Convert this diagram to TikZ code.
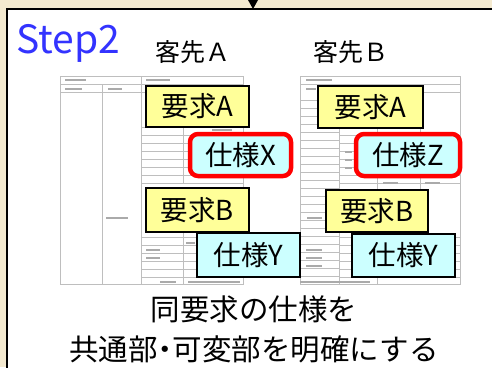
\documentclass[tikz,border=0pt]{standalone}
\usepackage{fontspec}
\setmainfont{Noto Sans CJK JP}
\definecolor{parch}{RGB}{244,234,208}
\definecolor{reqfill}{RGB}{255,255,153}
\definecolor{specfill}{RGB}{204,255,255}
\definecolor{stepblue}{RGB}{51,51,255}
\definecolor{gridgray}{RGB}{190,190,190}
\definecolor{blobgray}{RGB}{170,170,170}
\begin{document}
\begin{tikzpicture}[x=1pt,y=-1pt,
  req/.style={draw=black,line width=1.5pt,fill=reqfill,inner sep=0pt,font=\fontsize{27.5}{29}\selectfont},
  spec/.style={draw=black,line width=1.5pt,fill=specfill,inner sep=0pt,font=\fontsize{27.5}{29}\selectfont},
  hot/.style={draw=red,line width=4.5pt,fill=specfill,rounded corners=8pt,inner sep=0pt,font=\fontsize{27.5}{29}\selectfont},
  grid/.style={draw=gridgray,line width=0.8pt},
  blob/.style={draw=blobgray,line width=2.5pt}]
\useasboundingbox (0,0) rectangle (492,367);
\fill[parch] (0,0) rectangle (492,367);
% main white panel
\draw[line width=2pt,fill=white] (7,9) rectangle (510,390);
% arrow head from above
\fill[black] (248,0) -- (258,0) -- (253,9) -- cycle;
% left blurred sheet
\draw[grid] (60,76) rectangle (243,284);
\draw[grid] (102,84) -- (102,284);
\draw[grid] (141,76) -- (141,284);
\draw[grid] (60,84) -- (243,84);
\foreach \y in {92,127,135,143,151,159,167,175,183,237,245,253,261,269,277}{\draw[grid] (141,\y) -- (243,\y);}
\foreach \y in {92}{\draw[grid] (60,\y) -- (141,\y);}
\draw[grid] (183,127) -- (183,183);
\draw[grid] (183,230) -- (183,284);
\draw[blob] (65,80) -- (86,80);
\draw[blob] (65,89) -- (82,89);
\draw[blob] (108,89) -- (122,89);
\draw[blob] (146,80) -- (170,80);
\draw[blob] (106,218) -- (128,218);
\draw[blob] (146,250) -- (160,250);
\draw[blob] (146,258) -- (160,258);
\draw[blob] (186,243) -- (195,243);
\draw[blob] (160,282) -- (176,282);
\draw[blob] (188,282) -- (240,282);
\draw[blob] (212,130) -- (232,130);
% right blurred sheet
\draw[grid] (300,76) rectangle (460,284);
\draw[grid] (339,92) -- (339,284);
\draw[grid] (377,128) -- (377,284);
\draw[grid] (300,84) -- (460,84);
\foreach \y in {92,135,143,151,159,167,175,183,237,245,253,261,269,277}{\draw[grid] (339,\y) -- (460,\y);}
\foreach \y in {100,108,116,124,132,140,148,156,164,172,180,188,196,204,212,220,228,236,244,252,260,268,276}{\draw[grid] (300,\y) -- (339,\y);}
\draw[grid] (420,128) -- (420,190);
\draw[blob] (306,80) -- (332,80);
\draw[blob] (306,89) -- (316,89);
\draw[blob] (345,152) -- (352,152);
\draw[blob] (345,160) -- (352,160);
\draw[blob] (345,168) -- (352,168);
\draw[blob] (383,183) -- (398,183);
\draw[blob] (425,183) -- (440,183);
\draw[blob] (307,218) -- (322,218);
\draw[blob] (306,250) -- (322,250);
\draw[blob] (306,258) -- (322,258);
\draw[blob] (306,266) -- (322,266);
\draw[blob] (300,282) -- (370,282);
% headings
\node[anchor=base west,text=stepblue,inner sep=0pt,font=\fontsize{39}{42}\selectfont] (step) at (16,53) {Step2};
\node[anchor=base,inner sep=0pt,font=\fontsize{25}{27}\selectfont] (custA) at (193,61) {客先Ａ};
\node[anchor=base,inner sep=0pt,font=\fontsize{25}{27}\selectfont] (custB) at (351,61) {客先Ｂ};
% boxes
\node[req,minimum width=103pt,minimum height=41pt] (reqA1) at (197.5,106.5) {要求A};
\node[hot,minimum width=101pt,minimum height=42pt] (specX) at (240.5,155) {仕様X};
\node[req,minimum width=105pt,minimum height=42pt] (reqA2) at (370.5,107) {要求A};
\node[hot,minimum width=104pt,minimum height=42pt] (specZ) at (408,155) {仕様Z};
\node[req,minimum width=103pt,minimum height=44pt] (reqB1) at (197.5,210) {要求B};
\node[spec,minimum width=103pt,minimum height=44pt] (specY1) at (248.5,255) {仕様Y};
\node[req,minimum width=102pt,minimum height=42pt] (reqB2) at (377,211) {要求B};
\node[spec,minimum width=103pt,minimum height=43pt] (specY2) at (403.5,255.5) {仕様Y};
% caption
\node[anchor=base,inner sep=0pt,font=\fontsize{29.5}{31}\selectfont] (cap1) at (254,320) {同要求の仕様を};
\node[anchor=base,inner sep=0pt,font=\fontsize{29.5}{31}\selectfont] (cap2) at (254,360) {共通部\kern-0.25em・\kern-0.25em可変部を明確にする};
\end{tikzpicture}
\end{document}
